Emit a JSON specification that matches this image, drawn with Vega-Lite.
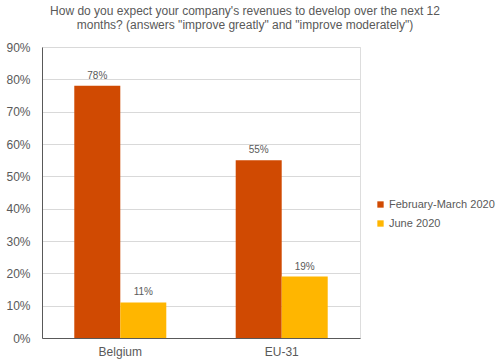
{
  "$schema": "https://vega.github.io/schema/vega-lite/v6.json",
  "autosize": "none",
  "width": 318,
  "height": 291,
  "padding": {"left": 42, "top": 47, "right": 143, "bottom": 22},
  "background": "white",
  "title": {
    "text": ["How do you expect your company's revenues to develop over the next 12", "months? (answers \"improve greatly\" and \"improve moderately\")"],
    "anchor": "middle",
    "dx": 44,
    "offset": 9,
    "font": "Liberation Sans",
    "fontSize": 12,
    "fontWeight": "normal",
    "color": "#595959",
    "lineHeight": 14
  },
  "data": {
    "values": [
      {"region": "Belgium", "period": "February-March 2020", "value": 0.78},
      {"region": "Belgium", "period": "June 2020", "value": 0.11},
      {"region": "EU-31", "period": "February-March 2020", "value": 0.55},
      {"region": "EU-31", "period": "June 2020", "value": 0.19}
    ]
  },
  "encoding": {
    "x": {
      "field": "region", "type": "nominal", "title": null,
      "scale": {"paddingInner": 0.43, "paddingOuter": 0.2},
      "axis": {"labelAngle": 0, "labelFont": "Liberation Sans", "labelFontSize": 12, "labelColor": "#595959", "ticks": false, "domainColor": "#595959", "labelPadding": 8}
    },
    "xOffset": {"field": "period", "type": "nominal", "sort": ["February-March 2020", "June 2020"]},
    "y": {
      "field": "value", "type": "quantitative", "title": null,
      "scale": {"domain": [0, 0.9], "nice": false},
      "axis": {"format": ".0%", "values": [0,0.1,0.2,0.3,0.4,0.5,0.6,0.7,0.8,0.9], "labelFont": "Liberation Sans", "labelFontSize": 12, "labelColor": "#595959", "ticks": false, "domainColor": "#595959", "gridColor": "#d9d9d9", "labelPadding": 12}
    }
  },
  "layer": [
    {
      "mark": {"type": "bar"},
      "encoding": {
        "color": {
          "field": "period", "type": "nominal", "title": null,
          "scale": {"domain": ["February-March 2020", "June 2020"], "range": ["#D04A02", "#FFB600"]},
          "legend": {"orient": "none", "legendX": 333, "legendY": 152, "symbolType": "square", "symbolSize": 40, "labelFont": "Liberation Sans", "labelFontSize": 11, "labelColor": "#595959", "labelOffset": 3, "rowPadding": 7, "symbolStrokeWidth": 0}
        }
      }
    },
    {
      "mark": {"type": "text", "dy": -10, "font": "Liberation Sans", "fontSize": 10, "color": "#595959"},
      "encoding": {
        "text": {"field": "value", "type": "quantitative", "format": ".0%"}
      }
    }
  ]
}
